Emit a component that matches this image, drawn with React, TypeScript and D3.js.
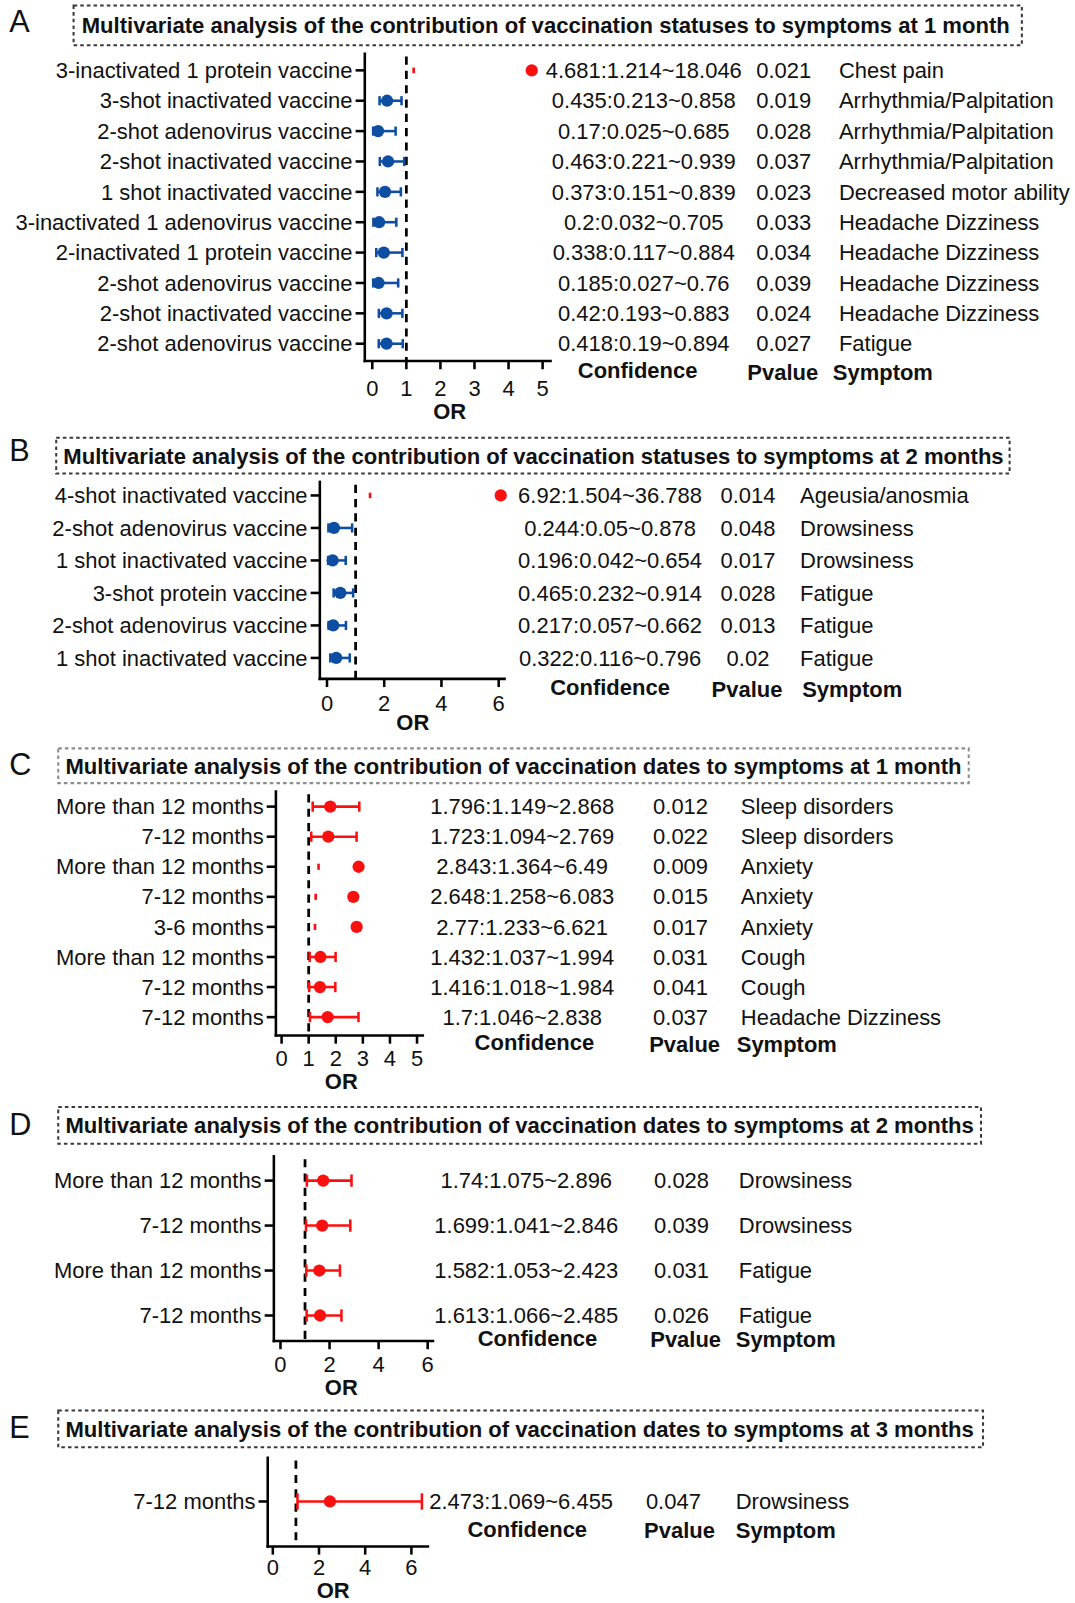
import React from 'react';
import * as d3 from 'd3';

const FONT = "'Liberation Sans', Arial, Helvetica, sans-serif";
const BLUE = '#0d4ea3';
const RED = '#fb1010';
const INK = '#111';

// ---- panel A: vaccination statuses, 1 month
const titleA = 'Multivariate analysis of the contribution of vaccination statuses to symptoms at 1 month';
const labelsA = [
  '3-inactivated 1 protein vaccine',
  '3-shot inactivated vaccine',
  '2-shot adenovirus vaccine',
  '2-shot inactivated vaccine',
  '1 shot inactivated vaccine',
  '3-inactivated 1 adenovirus vaccine',
  '2-inactivated 1 protein vaccine',
  '2-shot adenovirus vaccine',
  '2-shot inactivated vaccine',
  '2-shot adenovirus vaccine',
];
const orA = [4.681, 0.435, 0.17, 0.463, 0.373, 0.2, 0.338, 0.185, 0.42, 0.418];
const lowA = [1.214, 0.213, 0.025, 0.221, 0.151, 0.032, 0.117, 0.027, 0.193, 0.19];
const highA = [18.046, 0.858, 0.685, 0.939, 0.839, 0.705, 0.884, 0.76, 0.883, 0.894];
const pA = ['0.021', '0.019', '0.028', '0.037', '0.023', '0.033', '0.034', '0.039', '0.024', '0.027'];
const symptomA = [
  'Chest pain',
  'Arrhythmia/Palpitation',
  'Arrhythmia/Palpitation',
  'Arrhythmia/Palpitation',
  'Decreased motor ability',
  'Headache Dizziness',
  'Headache Dizziness',
  'Headache Dizziness',
  'Headache Dizziness',
  'Fatigue',
];
const ticksA = [0, 1, 2, 3, 4, 5];

// ---- panel B: vaccination statuses, 2 months
const titleB = 'Multivariate analysis of the contribution of vaccination statuses to symptoms at 2 months';
const labelsB = [
  '4-shot inactivated vaccine',
  '2-shot adenovirus vaccine',
  '1 shot inactivated vaccine',
  '3-shot protein vaccine',
  '2-shot adenovirus vaccine',
  '1 shot inactivated vaccine',
];
const orB = [6.92, 0.244, 0.196, 0.465, 0.217, 0.322];
const lowB = [1.504, 0.05, 0.042, 0.232, 0.057, 0.116];
const highB = [36.788, 0.878, 0.654, 0.914, 0.662, 0.796];
const pB = ['0.014', '0.048', '0.017', '0.028', '0.013', '0.02'];
const symptomB = ['Ageusia/anosmia', 'Drowsiness', 'Drowsiness', 'Fatigue', 'Fatigue', 'Fatigue'];
const ticksB = [0, 2, 4, 6];

// ---- panel C: vaccination dates, 1 month
const titleC = 'Multivariate analysis of the contribution of vaccination dates to symptoms at 1 month';
const labelsC = [
  'More than 12 months',
  '7-12 months',
  'More than 12 months',
  '7-12 months',
  '3-6 months',
  'More than 12 months',
  '7-12 months',
  '7-12 months',
];
const orC = [1.796, 1.723, 2.843, 2.648, 2.77, 1.432, 1.416, 1.7];
const lowC = [1.149, 1.094, 1.364, 1.258, 1.233, 1.037, 1.018, 1.046];
const highC = [2.868, 2.769, 6.49, 6.083, 6.621, 1.994, 1.984, 2.838];
const pC = ['0.012', '0.022', '0.009', '0.015', '0.017', '0.031', '0.041', '0.037'];
const symptomC = [
  'Sleep disorders',
  'Sleep disorders',
  'Anxiety',
  'Anxiety',
  'Anxiety',
  'Cough',
  'Cough',
  'Headache Dizziness',
];
const ticksC = [0, 1, 2, 3, 4, 5];

// ---- panel D: vaccination dates, 2 months
const titleD = 'Multivariate analysis of the contribution of vaccination dates to symptoms at 2 months';
const labelsD = ['More than 12 months', '7-12 months', 'More than 12 months', '7-12 months'];
const orD = [1.74, 1.699, 1.582, 1.613];
const lowD = [1.075, 1.041, 1.053, 1.066];
const highD = [2.896, 2.846, 2.423, 2.485];
const pD = ['0.028', '0.039', '0.031', '0.026'];
const symptomD = ['Drowsiness', 'Drowsiness', 'Fatigue', 'Fatigue'];
const ticksD = [0, 2, 4, 6];

// ---- panel E: vaccination dates, 3 months
const titleE = 'Multivariate analysis of the contribution of vaccination dates to symptoms at 3 months';
const labelsE = ['7-12 months'];
const orE = [2.473];
const lowE = [1.069];
const highE = [6.455];
const pE = ['0.047'];
const symptomE = ['Drowsiness'];
const ticksE = [0, 2, 4, 6];

// layout (in 1052x1568 units, the svg is scaled up to the page)
const panels = [
  {
    letter: 'A', title: titleA, labels: labelsA, or: orA, low: lowA, high: highA, p: pA, symptom: symptomA, ticks: ticksA,
    lay: { letterY: 20, box: [72, 1000, 5, 44], boxColor: '#3a3a3a', titleX: 80, x0: 357, x1: 540, top: 51, bottom: 353,
      domain: [-0.22, 5.27], rows: [68.5, 336], tickY: 380, orX: 440, orY: 402, confX: 630, pX: 767, symX: 821,
      hConfX: 624, hConfY: 362, hPX: 766, hSymX: 815, hY: 364, cap: 4.5 },
  },
  {
    letter: 'B', title: titleB, labels: labelsB, or: orB, low: lowB, high: highB, p: pB, symptom: symptomB, ticks: ticksB,
    lay: { letterY: 440, box: [55, 988, 428, 463], boxColor: '#3a3a3a', titleX: 62, x0: 313, x1: 495, top: 470, bottom: 664,
      domain: [-0.25, 6.25], rows: [484.5, 643.5], tickY: 688, orX: 404, orY: 707, confX: 597, pX: 732, symX: 783,
      hConfX: 597, hConfY: 672, hPX: 731, hSymX: 785, hY: 674, cap: 4.5 },
  },
  {
    letter: 'C', title: titleC, labels: labelsC, or: orC, low: lowC, high: highC, p: pC, symptom: symptomC, ticks: ticksC,
    lay: { letterY: 748, box: [57, 948, 732, 766], boxColor: '#8c8c8c', titleX: 64, x0: 270, x1: 415, top: 773, bottom: 1013,
      domain: [-0.21, 5.26], rows: [789, 995], tickY: 1035, orX: 334, orY: 1058, confX: 511, pX: 666, symX: 725,
      hConfX: 523, hConfY: 1020, hPX: 670, hSymX: 721, hY: 1022, cap: 5 },
  },
  {
    letter: 'D', title: titleD, labels: labelsD, or: orD, low: lowD, high: highD, p: pD, symptom: symptomD, ticks: ticksD,
    lay: { letterY: 1100, box: [57, 960, 1083, 1119], boxColor: '#3a3a3a', titleX: 64, x0: 268, x1: 425, top: 1130, bottom: 1312,
      domain: [-0.27, 6.27], rows: [1155, 1287], tickY: 1335, orX: 334, orY: 1357, confX: 515, pX: 667, symX: 723,
      hConfX: 526, hConfY: 1309, hPX: 671, hSymX: 720, hY: 1310, cap: 6 },
  },
  {
    letter: 'E', title: titleE, labels: labelsE, or: orE, low: lowE, high: highE, p: pE, symptom: symptomE, ticks: ticksE,
    lay: { letterY: 1396, box: [57, 962, 1380, 1416], boxColor: '#3a3a3a', titleX: 64, x0: 262, x1: 420, top: 1425, bottom: 1513,
      domain: [-0.22, 6.77], rows: [1469, 1469], tickY: 1533, orX: 326, orY: 1556, confX: 510, pX: 659, symX: 720,
      hConfX: 516, hConfY: 1496, hPX: 665, hSymX: 720, hY: 1497, cap: 8 },
  },
];

function Panel({ panel }) {
  const { letter, title, labels, or, low, high, p, symptom, ticks, lay } = panel;
  const x = d3.scaleLinear().domain(lay.domain).range([lay.x0, lay.x1]);
  const y = d3.scalePoint().domain(labels.map((d, i) => String(i))).range(lay.rows);
  const maxOR = lay.domain[1];
  const [bx0, bx1, by0, by1] = lay.box;
  const r = 6;

  return (
    <g>
      <text x={9} y={lay.letterY} dy="0.35em" fontSize={30} fill={INK}>{letter}</text>
      <rect x={bx0} y={by0} width={bx1 - bx0} height={by1 - by0} fill="none"
        stroke={lay.boxColor} strokeWidth={2} strokeDasharray="3.5 3" />
      <text x={lay.titleX} y={(by0 + by1) / 2} dy="0.36em" fontSize={21.6} fontWeight="bold" fill={INK}>{title}</text>

      {/* reference line at OR = 1 */}
      <line x1={x(1)} x2={x(1)} y1={lay.top + 4} y2={lay.bottom} stroke="#000" strokeWidth={2.7} strokeDasharray="8 6" />

      {/* axes */}
      <line x1={lay.x0} x2={lay.x0} y1={lay.top} y2={lay.bottom + 1.25} stroke="#000" strokeWidth={2.5} />
      <line x1={lay.x0 - 1.25} x2={lay.x1} y1={lay.bottom} y2={lay.bottom} stroke="#000" strokeWidth={2.5} />
      {ticks.map((t) => (
        <g key={'t' + t}>
          <line x1={x(t)} x2={x(t)} y1={lay.bottom} y2={lay.bottom + 8} stroke="#000" strokeWidth={2.5} />
          <text x={x(t)} y={lay.tickY} dy="0.35em" textAnchor="middle" fontSize={21.5} fill={INK}>{t}</text>
        </g>
      ))}
      <text x={lay.orX} y={lay.orY} dy="0.35em" textAnchor="middle" fontSize={21.5} fontWeight="bold" fill={INK}>OR</text>

      {labels.map((lab, i) => {
        const cy = y(String(i));
        const color = or[i] < 1 ? BLUE : RED;
        const offScale = high[i] > maxOR;
        const cx = Math.min(x(or[i]), lay.x1 - r + 1);
        return (
          <g key={'r' + i}>
            <line x1={lay.x0 - 9} x2={lay.x0} y1={cy} y2={cy} stroke="#000" strokeWidth={2.5} />
            <text x={lay.x0 - 12} y={cy} dy="0.35em" textAnchor="end" fontSize={21.5} fill={INK}>{lab}</text>
            {offScale ? (
              <line x1={x(low[i])} x2={x(low[i])} y1={cy - lay.cap * 0.6} y2={cy + lay.cap * 0.6} stroke={color} strokeWidth={2.6} />
            ) : (
              <g stroke={color} strokeWidth={2.5}>
                <line x1={x(low[i])} x2={x(high[i])} y1={cy} y2={cy} />
                <line x1={x(low[i])} x2={x(low[i])} y1={cy - lay.cap} y2={cy + lay.cap} />
                <line x1={x(high[i])} x2={x(high[i])} y1={cy - lay.cap} y2={cy + lay.cap} />
              </g>
            )}
            <circle cx={cx} cy={cy} r={r} fill={color} />
            <text x={lay.confX} y={cy} dy="0.35em" textAnchor="middle" fontSize={21.5} fill={INK}>
              {`${or[i]}:${low[i]}~${high[i]}`}
            </text>
            <text x={lay.pX} y={cy} dy="0.35em" textAnchor="middle" fontSize={21.5} fill={INK}>{p[i]}</text>
            <text x={lay.symX} y={cy} dy="0.35em" fontSize={21.5} fill={INK}>{symptom[i]}</text>
          </g>
        );
      })}

      <text x={lay.hConfX} y={lay.hConfY} dy="0.35em" textAnchor="middle" fontSize={21.5} fontWeight="bold" fill={INK}>Confidence</text>
      <text x={lay.hPX} y={lay.hY} dy="0.35em" textAnchor="middle" fontSize={21.5} fontWeight="bold" fill={INK}>Pvalue</text>
      <text x={lay.hSymX} y={lay.hY} dy="0.35em" fontSize={21.5} fontWeight="bold" fill={INK}>Symptom</text>
    </g>
  );
}

export default function App() {
  return (
    <div style={{ position: 'absolute', left: 0, top: 0, width: 1075, height: 1603, background: '#fff' }}>
      <svg width={1075} height={1603} viewBox="0 0 1052 1568" style={{ display: 'block', fontFamily: FONT }}>
        <rect x={0} y={0} width={1052} height={1568} fill="#fff" />
        {panels.map((pn) => (
          <Panel key={pn.letter} panel={pn} />
        ))}
      </svg>
    </div>
  );
}
